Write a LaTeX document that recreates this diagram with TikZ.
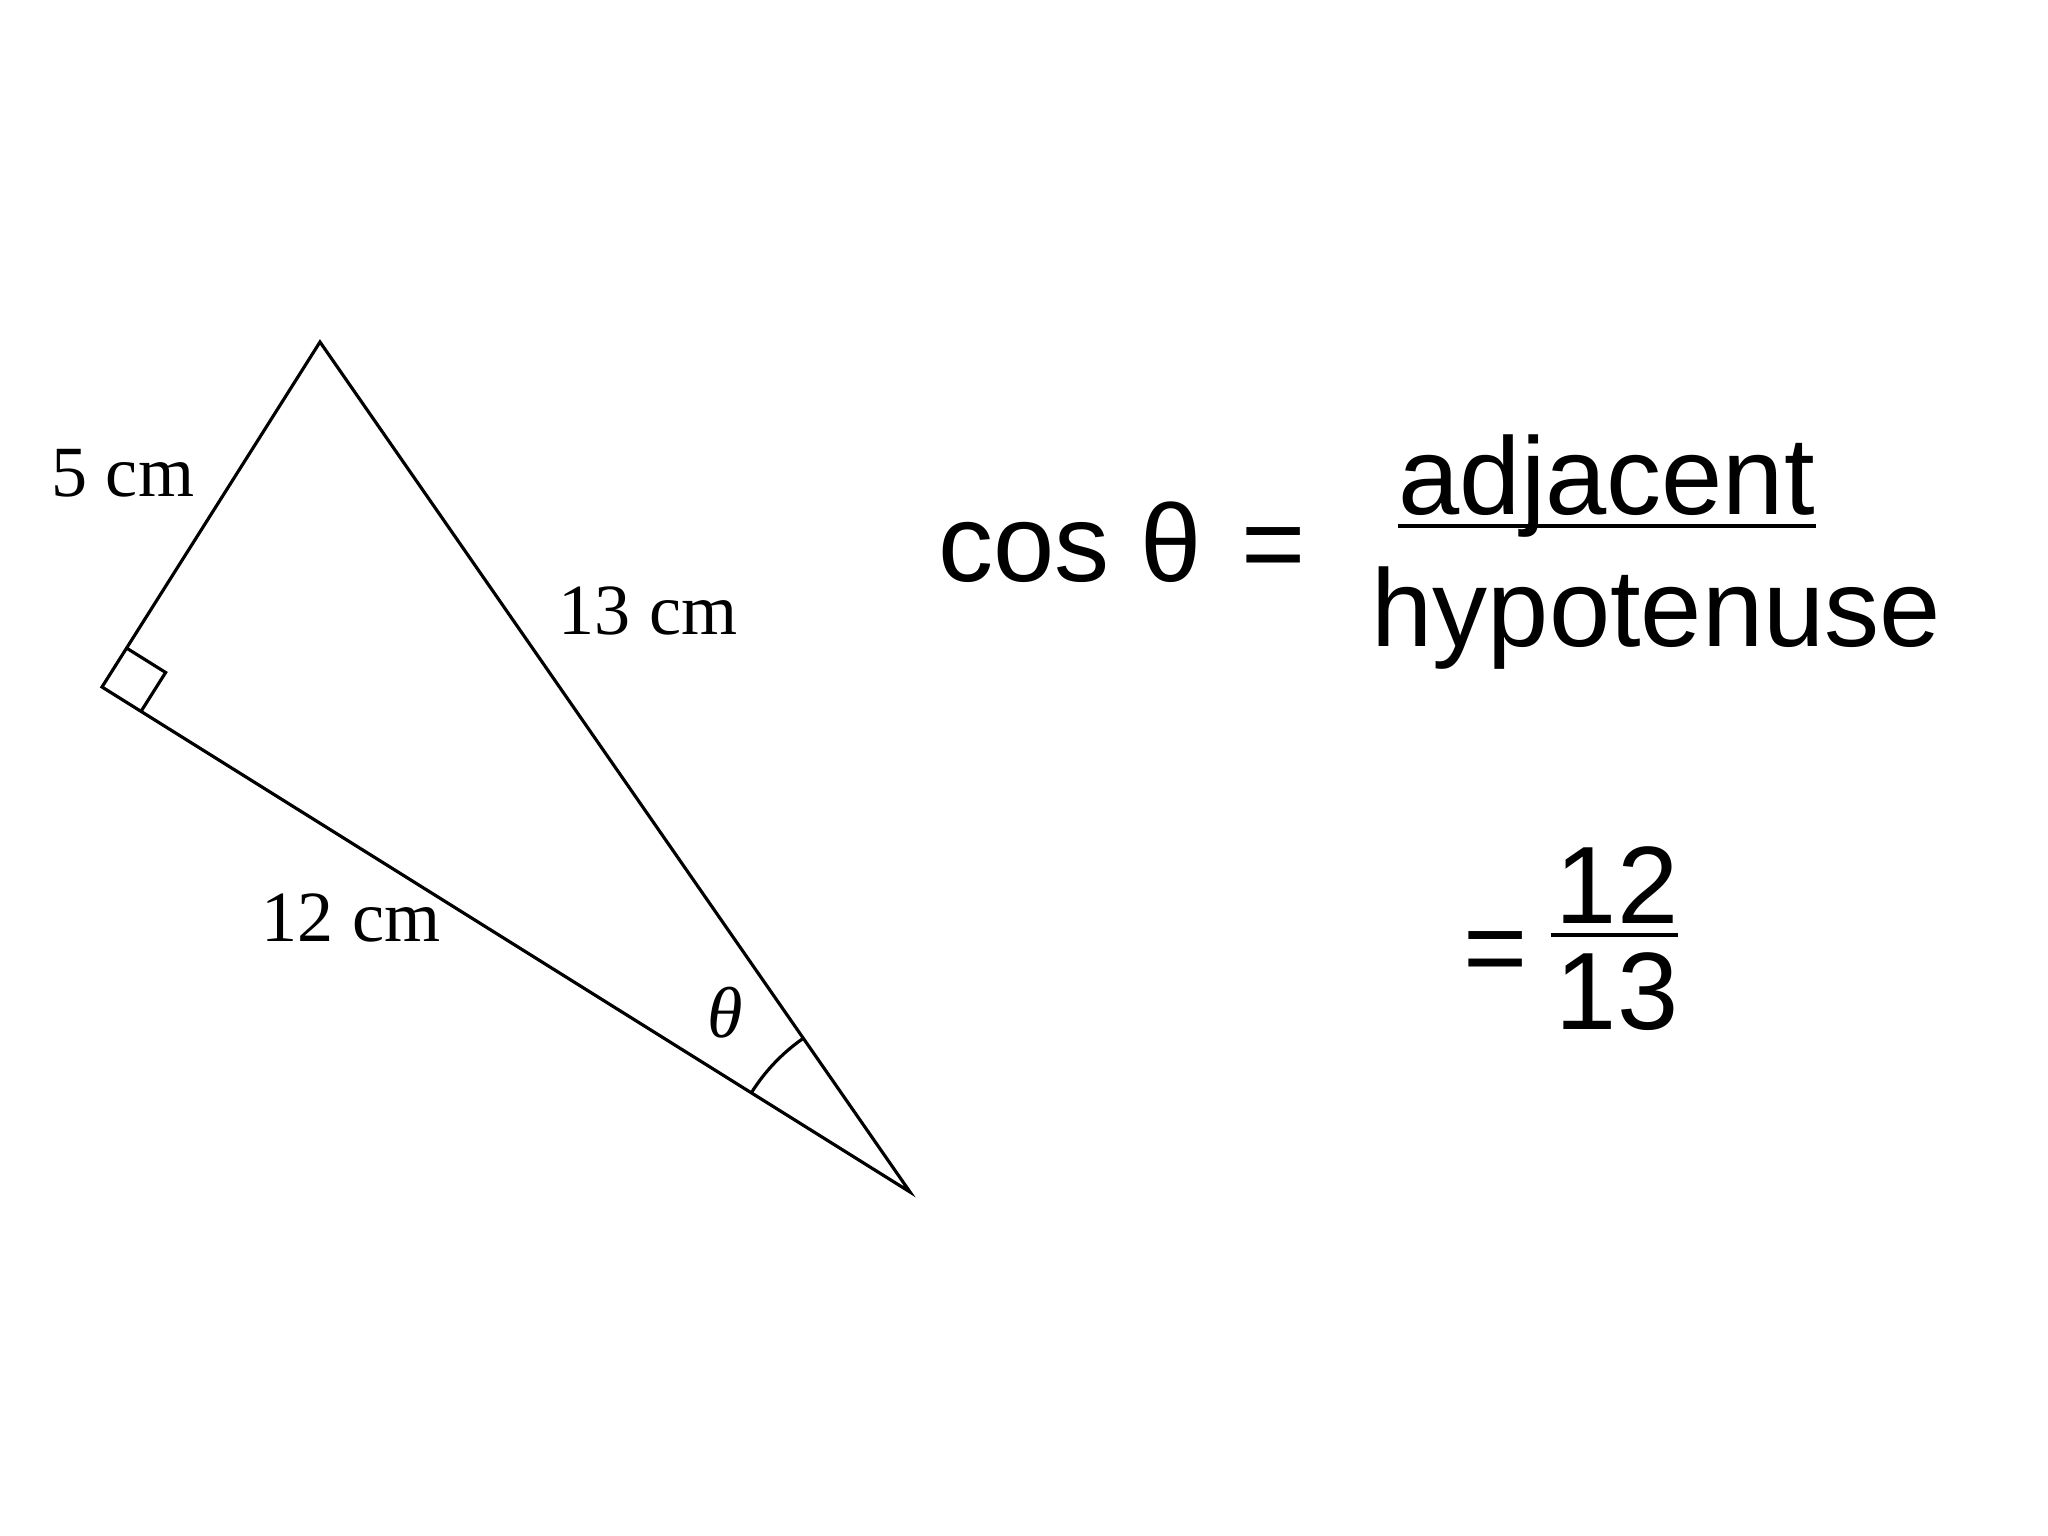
\documentclass[tikz,border=0pt]{standalone}
\usepackage{fontspec}
\setmainfont{Liberation Serif}
\newfontfamily\helv{Liberation Sans}
\usetikzlibrary{calc,angles}
\tikzstyle{side}=[draw,line width=0.9pt]
\tikzstyle{lengthlabel}=[inner sep=0pt,font=\fontsize{20.5}{24}\selectfont]
\tikzstyle{formula}=[inner sep=0pt,anchor=base west,font=\helv\fontsize{31.3}{36}\selectfont]
\tikzstyle{bar}=[draw,line width=1.3pt]

\begin{document}
\begin{tikzpicture}[x=0.01cm,y=0.01cm]
   \useasboundingbox (0,0) rectangle (2048,1536);

   % the triangle
   \coordinate (A) at (320,1194);
   \coordinate (C) at (102,849);
   \coordinate (B) at (910,344);
   \draw[side] (A) -- (C) -- (B) -- cycle;

   % right angle and theta
   \coordinate (ra1) at ($(C)!0.46cm!(A)$);
   \coordinate (ra2) at ($(C)!0.46cm!(B)$);
   \draw[side] (ra1) -- ($(ra1)+(ra2)-(C)$) -- (ra2);
   \pic[side,angle radius=1.87cm] {angle=A--B--C};

   \foreach \x/ \y/ \name / \label in {123/1063/l5/5 cm, 648/925/l13/13 cm, 351/618/l12/12 cm, 725/523/th/\itshape θ}
       \node[lengthlabel] (\name) at (\x,\y) {\label};

   % cos theta = adjacent / hypotenuse
   \node[formula] (cos) at (938,954) {cos θ\hspace{2.5pt} =};
   \node[formula] (adj) at (1398,1021) {adjacent};
   \node[formula] (hyp) at (1371,889) {hypotenuse};
   \draw[bar] ([yshift=-0.11cm]adj.base west) -- ([yshift=-0.11cm]adj.base east);

   \node[formula] (eq) at (1463,550) {=};
   \node[formula,anchor=base] (num) at (1617,612) {12};
   \node[formula,anchor=base] (den) at (1617,506) {13};
   \draw[bar] ($(num.base west)+(-4,-11)$) -- ($(num.base east)+(-1,-11)$);

\end{tikzpicture}
\end{document}
